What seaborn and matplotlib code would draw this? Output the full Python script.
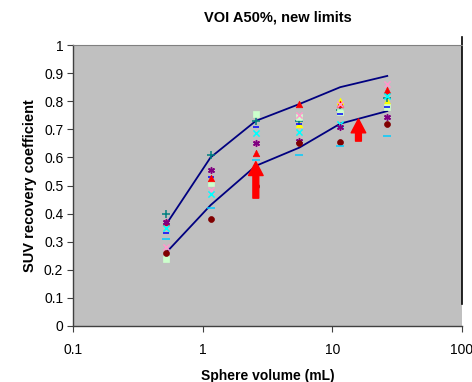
import matplotlib
matplotlib.use("Agg")
import matplotlib.pyplot as plt
import seaborn as sns
import pandas as pd
import numpy as np

# sphere volumes (mL)
volumes = [0.52, 1.15, 2.57, 5.57, 11.49, 26.52]

# reference limit curves
upper_limit = [0.36, 0.60, 0.73, 0.79, 0.85, 0.89]
lower_limit = [0.26, 0.43, 0.57, 0.635, 0.72, 0.765]

# measured recovery coefficients per system
teal_plus = [0.40, 0.61, 0.73, 0.73, 0.77, 0.81]
yellow_tri = [np.nan, np.nan, np.nan, 0.72, 0.80, 0.80]
red_tri = [0.37, 0.525, 0.615, 0.79, 0.79, 0.84]
green_sq = [0.24, 0.51, 0.755, 0.745, 0.76, 0.78]
blue_dash = [0.33, 0.53, 0.71, 0.72, 0.755, 0.78]
pink_x = [0.28, 0.485, 0.65, 0.75, 0.79, 0.86]
cyan_x = [0.35, 0.47, 0.687, 0.69, 0.72, 0.82]
purple_star = [0.37, 0.555, 0.65, 0.66, 0.71, 0.745]
darkred_circ = [0.26, 0.38, 0.50, 0.65, 0.655, 0.72]
sky_dash = [0.31, 0.42, 0.59, 0.61, 0.64, 0.675]

series = [
    (yellow_tri, "#FFFF00", "^", 22),
    (teal_plus, "#008080", "+", 30),
    (green_sq, "#CCFFCC", "s", 16),
    (blue_dash, "#0000FF", "_", 22),
    (red_tri, "#FF0000", "^", 22),
    (pink_x, "#FF99CC", "x", 20),
    (cyan_x, "#00FFFF", "x", 20),
    (purple_star, "#800080", (6, 2, 0), 17),
    (darkred_circ, "#800000", "o", 18),
    (sky_dash, "#00CCFF", "_", 36),
]

plt.rcParams["font.family"] = ["Liberation Sans", "DejaVu Sans"]

fig = plt.figure(figsize=(4.72, 3.82), dpi=100)
ax = fig.add_axes([0.1547, 0.1466, 0.8241, 0.7355])
ax.set_facecolor("#C0C0C0")

lines = pd.DataFrame({"vol": volumes, "upper": upper_limit, "lower": lower_limit})
sns.lineplot(data=lines, x="vol", y="upper", color="#000080", linewidth=1.3, ax=ax)
sns.lineplot(data=lines, x="vol", y="lower", color="#000080", linewidth=1.3, ax=ax)

for vals, col, mk, sz in series:
    d = pd.DataFrame({"vol": volumes, "rc": vals}).dropna()
    if mk in ("+", "x", "_") or isinstance(mk, tuple):
        sns.scatterplot(data=d, x="vol", y="rc", marker=mk, color=col, s=sz,
                        linewidth=1.1, ax=ax, zorder=3)
    else:
        sns.scatterplot(data=d, x="vol", y="rc", marker=mk, color=col, s=sz,
                        edgecolor=col, linewidth=0.5, ax=ax, zorder=3)

# red arrows
arrow = dict(arrowstyle="simple,head_width=1.05,head_length=1.0,tail_width=0.42",
             mutation_scale=10, color="#FF0000", shrinkA=0, shrinkB=0)
ax.annotate("", xy=(2.57, 0.585), xytext=(2.57, 0.455), arrowprops=arrow, zorder=5)
ax.annotate("", xy=(15.9, 0.737), xytext=(15.9, 0.658), arrowprops=arrow, zorder=5)

ax.set_xscale("log")
ax.set_xlim(0.1, 100)
ax.set_ylim(0, 1)
ax.set_xticks([0.1, 1, 10, 100])
ax.set_xticklabels(["0.1", "1", "10", "100"])
ax.minorticks_off()
ax.set_yticks(np.arange(0, 1.01, 0.1))
ax.set_yticklabels(["0", "0.1", "0.2", "0.3", "0.4", "0.5", "0.6", "0.7", "0.8", "0.9", "1"])
ax.tick_params(axis="both", labelsize=10, length=4, width=0.8, color="#404040", pad=3)
ax.tick_params(axis="x", pad=8)

for s in ["left", "bottom"]:
    ax.spines[s].set_color("#404040")
    ax.spines[s].set_linewidth(1.0)
ax.spines["top"].set_color("#808080")
ax.spines["top"].set_linewidth(0.8)
ax.spines["right"].set_color("black")
ax.spines["right"].set_linewidth(1.2)
ax.spines["right"].set_bounds(0.08, 1.03)

ax.set_xlabel("Sphere volume (mL)", fontsize=10, fontweight="bold", labelpad=9)
ax.set_ylabel("SUV recovery coefficient", fontsize=10.5, fontweight="bold", labelpad=5)
fig.text(0.589, 0.953, "VOI A50%, new limits", fontsize=10.5, fontweight="bold",
         ha="center", va="center")

fig.savefig("out.png", dpi=100)
